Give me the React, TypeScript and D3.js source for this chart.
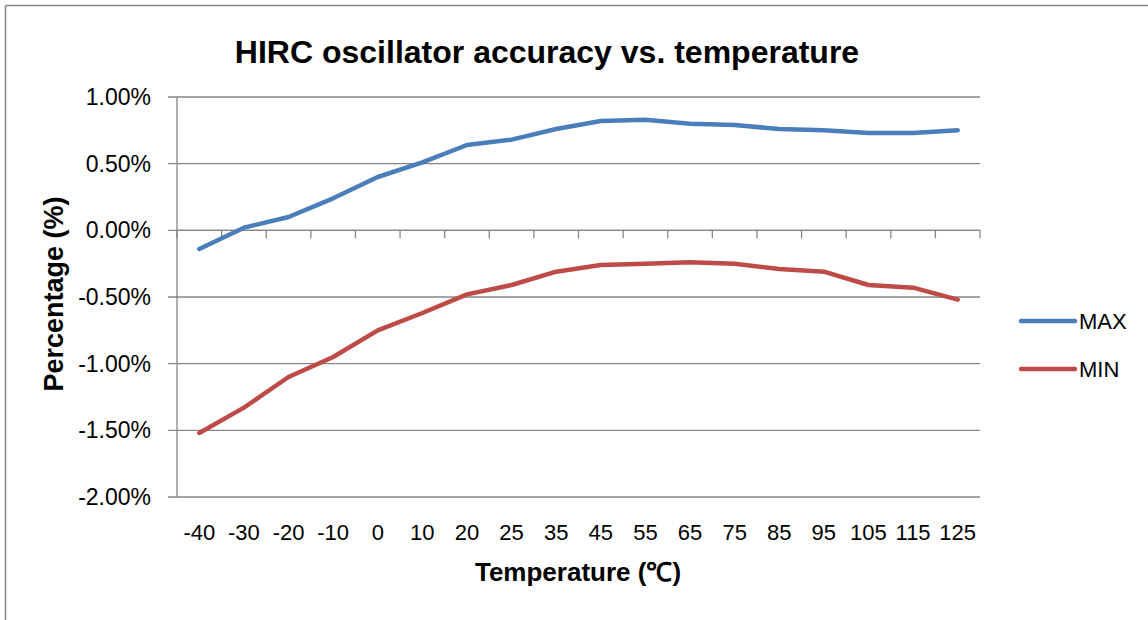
import React from "react";
import * as d3 from "d3";

const categories = ["-40", "-30", "-20", "-10", "0", "10", "20", "25", "35", "45", "55", "65", "75", "85", "95", "105", "115", "125"];
const maxValues = [-0.14, 0.02, 0.1, 0.24, 0.4, 0.51, 0.64, 0.68, 0.76, 0.82, 0.83, 0.8, 0.79, 0.76, 0.75, 0.73, 0.73, 0.75];
const minValues = [-1.52, -1.33, -1.1, -0.95, -0.75, -0.62, -0.48, -0.41, -0.31, -0.26, -0.25, -0.24, -0.25, -0.29, -0.31, -0.41, -0.43, -0.52];
const yTicks = [1.0, 0.5, 0.0, -0.5, -1.0, -1.5, -2.0];
const seriesNames = ["MAX", "MIN"];
const seriesColors = ["#4A7EBB", "#BE4B48"];

const W = 1148;
const H = 620;
const plotLeft = 177;
const plotRight = 980;
const plotTop = 97;
const plotBottom = 497;
const gridColor = "#868686";
const font = "'Liberation Sans', Arial, sans-serif";

export default function App() {
  const x = d3.scaleBand<string>().domain(categories).range([plotLeft, plotRight]).paddingInner(0).paddingOuter(0);
  const y = d3.scaleLinear().domain([-2, 1]).range([plotBottom, plotTop]);
  const bw = x.bandwidth();
  const cx = (c: string) => (x(c) as number) + bw / 2;

  const line = d3
    .line<number>()
    .x((_, i) => cx(categories[i]))
    .y((d) => y(d));

  const series = [maxValues, minValues];
  const zeroY = y(0);
  const boundaries = categories.map((c) => x(c) as number).concat([plotRight]);

  return (
    <svg width={W} height={H} style={{ display: "block", position: "absolute", left: 0, top: 0 }}>
      <rect x={0} y={0} width={W} height={H} fill="#ffffff" />
      {/* outer chart border */}
      <line x1={5.5} y1={5.5} x2={W} y2={5.5} stroke={gridColor} strokeWidth={1.5} />
      <line x1={5.5} y1={5.5} x2={5.5} y2={H} stroke={gridColor} strokeWidth={1.5} />

      {/* title */}
      <text x={547} y={63} textAnchor="middle" fontFamily={font} fontWeight="bold" fontSize={32} fill="#000">
        HIRC oscillator accuracy vs. temperature
      </text>

      {/* gridlines + y ticks */}
      {yTicks.map((t) => (
        <g key={t}>
          <line x1={plotLeft - 9} x2={plotRight} y1={y(t)} y2={y(t)} stroke={gridColor} strokeWidth={1.3} />
          <text x={151} y={y(t) + 8} textAnchor="end" fontFamily={font} fontSize={23} fill="#000">
            {t.toFixed(2) + "%"}
          </text>
        </g>
      ))}

      {/* y axis line */}
      <line x1={plotLeft} x2={plotLeft} y1={plotTop} y2={plotBottom} stroke={gridColor} strokeWidth={1.3} />

      {/* x axis at zero with ticks */}
      <line x1={plotLeft} x2={plotRight} y1={zeroY} y2={zeroY} stroke={gridColor} strokeWidth={1.3} />
      {boundaries.map((bx, i) => (
        <line key={i} x1={bx} x2={bx} y1={zeroY} y2={zeroY + 8} stroke={gridColor} strokeWidth={1.3} />
      ))}

      {/* x labels */}
      {categories.map((c) => (
        <text key={c} x={cx(c)} y={540} textAnchor="middle" fontFamily={font} fontSize={22} fill="#000">
          {c}
        </text>
      ))}

      {/* axis titles */}
      <text x={578} y={581} textAnchor="middle" fontFamily={font} fontWeight="bold" fontSize={26} fill="#000">
        Temperature (℃)
      </text>
      <text
        transform={`translate(63, ${(plotTop + plotBottom) / 2 - 3}) rotate(-90)`}
        textAnchor="middle"
        fontFamily={font}
        fontWeight="bold"
        fontSize={27}
        fill="#000"
      >
        Percentage (%)
      </text>

      {/* series */}
      {series.map((s, i) => (
        <path
          key={seriesNames[i]}
          d={line(s) || ""}
          fill="none"
          stroke={seriesColors[i]}
          strokeWidth={4.5}
          strokeLinecap="round"
          strokeLinejoin="round"
        />
      ))}

      {/* legend */}
      {seriesNames.map((n, i) => {
        const ly = 321 + i * 48;
        return (
          <g key={n}>
            <line x1={1021} x2={1075} y1={ly} y2={ly} stroke={seriesColors[i]} strokeWidth={4.5} strokeLinecap="round" />
            <text x={1079} y={ly + 8} fontFamily={font} fontSize={22} fill="#000">
              {n}
            </text>
          </g>
        );
      })}
    </svg>
  );
}
